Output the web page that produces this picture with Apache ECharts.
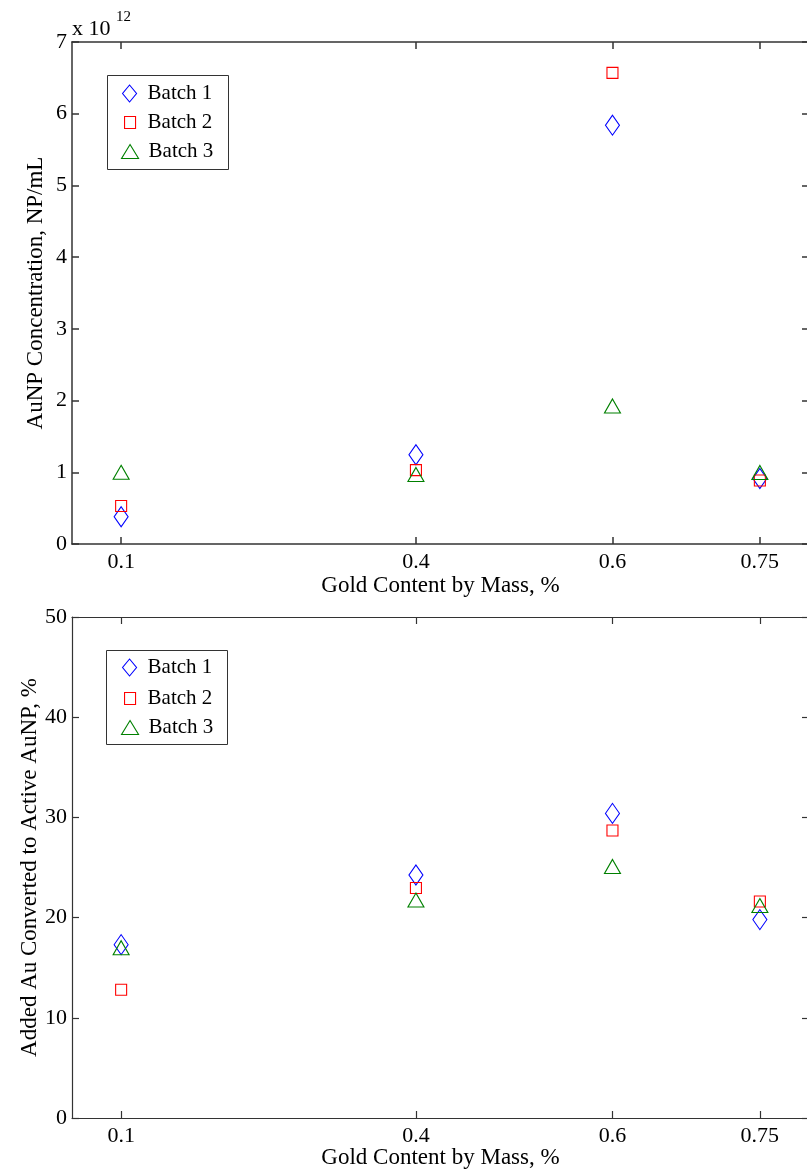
<!DOCTYPE html>
<html><head><meta charset="utf-8">
<script src="https://cdn.jsdelivr.net/npm/echarts@6/dist/echarts.min.js"></script>
<style>html,body{margin:0;padding:0;background:#fff}#c{width:807px;height:1172px}</style>
</head><body><div id="c"></div>
<script>
// ---- data ----
const goldContent = [0.1, 0.4, 0.6, 0.75];
const xTickLabels = ['0.1', '0.4', '0.6', '0.75'];
const seriesNames = ['Batch 1', 'Batch 2', 'Batch 3'];
// AuNP concentration, in units of 1e12 NP/mL
const concBatch1 = [0.38, 1.245, 5.84, 0.913];
const concBatch2 = [0.53, 1.03, 6.57, 0.886];
const concBatch3 = [1.0, 0.97, 1.925, 0.997];
// Added Au converted to active AuNP, %
const convBatch1 = [17.3, 24.25, 30.4, 19.8];
const convBatch2 = [12.8, 22.95, 28.7, 21.6];
const convBatch3 = [17.0, 21.75, 25.1, 21.2];
const concTicks = [0, 1, 2, 3, 4, 5, 6, 7];
const convTicks = [0, 10, 20, 30, 40, 50];

// ---- styles ----
const FONT = '"Liberation Serif", "Times New Roman", serif';
const colors = ['#0000ff', '#ff0000', '#008000'];
const symbols = ['diamond', 'rect', 'triangle'];
const symSizes = [[14, 20], [11, 11], [16, 14]];
const legSizes = [[14, 17], [11, 12], [17, 14]];
const legLeft = [122, 124, 121];
const legPad = [6, 7, 5];
const AX = '#333';

const chart = echarts.init(document.getElementById('c'), null, {renderer: 'canvas'});

function pairs(xs, ys) { return xs.map((x, i) => [x, ys[i]]); }

const grids = [
  {left: 72, top: 42, width: 737, height: 502, outerBoundsMode: 'none', containLabel: false},
  {left: 72, top: 617, width: 737, height: 501, outerBoundsMode: 'none', containLabel: false}
];

function xAxes(gi, lineW, gap) {
  const base = {
    type: 'value', gridIndex: gi, min: 0.05, max: 0.8,
    splitLine: {show: false},
    axisLine: {show: true, onZero: false, lineStyle: {color: AX, width: lineW}},
    axisTick: {show: true, inside: true, length: 7, customValues: goldContent, lineStyle: {color: AX, width: lineW}}
  };
  return [
    Object.assign({}, base, {
      position: 'bottom',
      name: 'Gold Content by Mass, %', nameLocation: 'middle', nameGap: gap, nameMoveOverlap: false,
      nameTextStyle: {fontFamily: FONT, fontSize: 23, color: '#000'},
      axisLabel: {show: true, customValues: goldContent, margin: 7,
        formatter: v => { const i = goldContent.indexOf(v); return i >= 0 ? xTickLabels[i] : ''; },
        fontFamily: FONT, fontSize: 22, color: '#000'}
    }),
    Object.assign({}, base, {position: 'top', axisLabel: {show: false}})
  ];
}

function yAxes(gi, ticks, name, gap, lineW) {
  const base = {
    type: 'value', gridIndex: gi, min: ticks[0], max: ticks[ticks.length - 1],
    interval: ticks[1] - ticks[0],
    splitLine: {show: false},
    axisLine: {show: true, onZero: false, lineStyle: {color: AX, width: lineW}},
    axisTick: {show: true, inside: true, length: 7, lineStyle: {color: AX, width: lineW}}
  };
  return [
    Object.assign({}, base, {
      position: 'left', name: name, nameLocation: 'middle', nameGap: gap, nameMoveOverlap: false,
      nameTextStyle: {fontFamily: FONT, fontSize: 23, color: '#000'},
      axisLabel: {show: true, margin: 5, fontFamily: FONT, fontSize: 22, color: '#000'}
    }),
    Object.assign({}, base, {position: 'right', axisLabel: {show: false}})
  ];
}

const topData = [concBatch1, concBatch2, concBatch3];
const botData = [convBatch1, convBatch2, convBatch3];

const series = [];
[topData, botData].forEach((set, gi) => {
  set.forEach((ys, k) => {
    series.push({
      type: 'scatter', name: seriesNames[k],
      xAxisIndex: gi * 2, yAxisIndex: gi * 2,
      data: pairs(goldContent, ys),
      symbol: symbols[k], symbolSize: symSizes[k],
      itemStyle: {color: 'rgba(0,0,0,0)', borderColor: colors[k], borderWidth: 1.1, opacity: 1},
      emphasis: {disabled: true},
      silent: true
    });
  });
});

const legendCenters = [[93, 122, 151], [667, 698, 727]];
const legends = [];
legendCenters.forEach(cs => {
  cs.forEach((cy, k) => {
    const h = Math.max(legSizes[k][1], 20);
    legends.push({
      data: [seriesNames[k]], orient: 'vertical', selectedMode: false,
      left: legLeft[k], top: cy - h / 2, padding: 0,
      itemWidth: legSizes[k][0], itemHeight: legSizes[k][1],
      symbolKeepAspect: false,
      icon: symbols[k],
      itemStyle: {color: 'rgba(0,0,0,0)', borderColor: colors[k], borderWidth: 1.1},
      textStyle: {fontFamily: FONT, fontSize: 21, color: '#000', lineHeight: 20, padding: [0, 0, 0, legPad[k]]}
    });
  });
});

chart.setOption({
  animation: false,
  backgroundColor: '#fff',
  grid: grids,
  xAxis: [...xAxes(0, 1.5, 30), ...xAxes(1, 1.2, 28)],
  yAxis: [...yAxes(0, concTicks, 'AuNP Concentration, NP/mL', 25, 1.5),
          ...yAxes(1, convTicks, 'Added Au Converted to Active AuNP, %', 31, 1.2)],
  legend: legends,
  series: series,
  graphic: [
    {type: 'rect', shape: {x: 107.5, y: 75.5, width: 121, height: 94}, style: {fill: '#fff', stroke: '#333', lineWidth: 1}, z: 1, silent: true},
    {type: 'rect', shape: {x: 106.5, y: 650.5, width: 121, height: 94}, style: {fill: '#fff', stroke: '#333', lineWidth: 1}, z: 1, silent: true},
    {type: 'text', left: 72, top: 18, style: {text: 'x 10', font: '22px ' + FONT, fill: '#000'}, silent: true},
    {type: 'text', left: 116, top: 10, style: {text: '12', font: '15px ' + FONT, fill: '#000'}, silent: true}
  ]
});
</script></body></html>
